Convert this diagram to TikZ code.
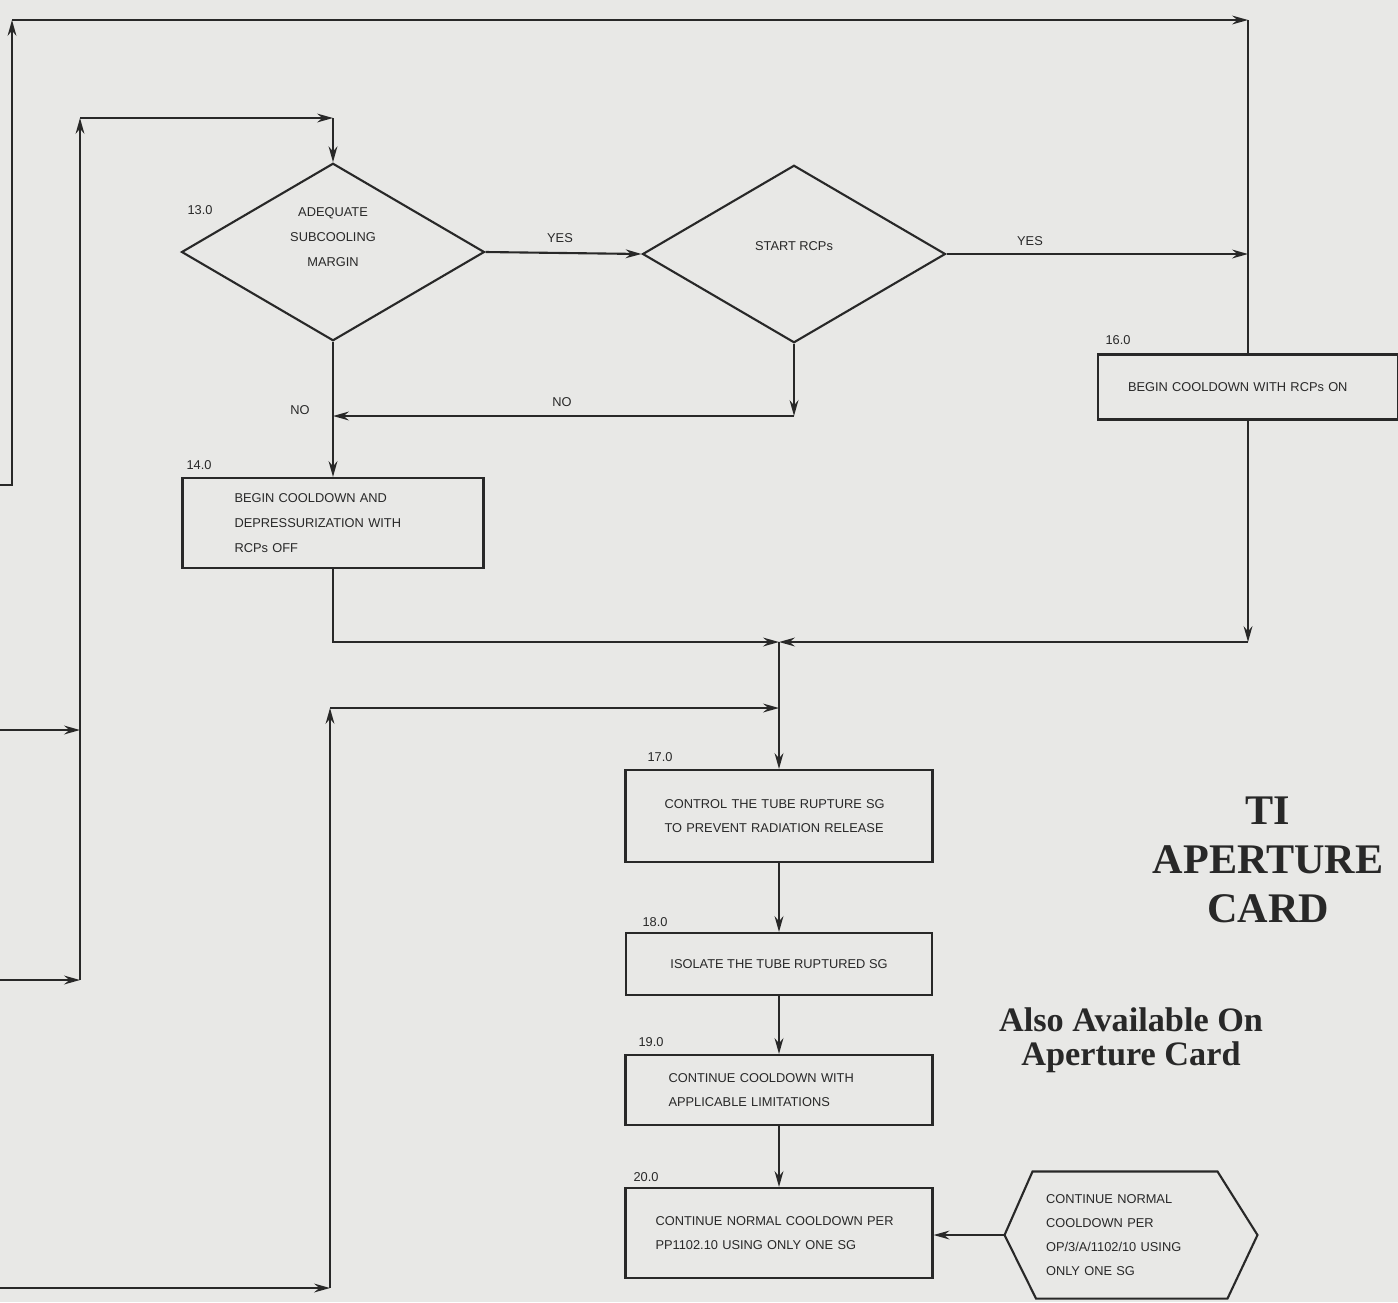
\documentclass[tikz,border=0pt]{standalone}
\usepackage{fontspec}
\newfontfamily\cardfont{Liberation Sans}
\newfontfamily\titlefont{Liberation Serif}
\usepackage{tikz}
\usetikzlibrary{arrows.meta, shapes.geometric}
\definecolor{paper}{RGB}{232,232,230}
\definecolor{ink}{RGB}{40,40,40}

\begin{document}
\begin{tikzpicture}[x=0.02cm, y=-0.02cm, >={Stealth[length=9pt,width=5pt]}, line width=1.2pt, color=ink,
	every node/.style={font=\cardfont\fontsize{7.3}{14}\selectfont},
	flow/.style={->},
	decision/.style={diamond, draw, minimum width=6.06cm, minimum height=3.55cm, inner sep=0pt},
	procbox/.style={rectangle, draw, align=left, inner ysep=0pt},
	tag/.style={inner sep=0pt},
	branch/.style={inner sep=0pt},
	stamp/.style={align=center, inner sep=0pt}]
	\useasboundingbox[fill=paper] (0,0) rectangle (1398,1302);

	\node[decision, label={[align=center, yshift=0.3cm]center:ADEQUATE\\SUBCOOLING\\MARGIN}] (d13) at (333,252) {};
	\node[decision, label={[yshift=0.16cm]center:START RCPs}] (drcp) at (794,254) {};
	\node[procbox, minimum height=1.8cm, text width=3.94cm, inner xsep=1.04cm] (b14) at (333,523) {BEGIN COOLDOWN AND\\DEPRESSURIZATION WITH\\RCPs OFF};
	\node[procbox, minimum height=1.3cm, text width=4.8cm, inner xsep=0.6cm] (b16) at (1248,387) {BEGIN COOLDOWN WITH RCPs ON};
	\node[procbox, minimum height=1.84cm, text width=4.58cm, inner xsep=0.78cm] (b17) at (779,816) {CONTROL THE TUBE RUPTURE SG\\TO PREVENT RADIATION RELEASE};
	\node[procbox, minimum height=1.24cm, minimum width=6.12cm, align=center] (b18) at (779,964) {ISOLATE THE TUBE RUPTURED SG};
	\node[procbox, minimum height=1.4cm, text width=4.42cm, inner xsep=0.86cm] (b19) at (779,1090) {CONTINUE COOLDOWN WITH\\APPLICABLE LIMITATIONS};
	\node[procbox, minimum height=1.8cm, text width=4.94cm, inner xsep=0.6cm] (b20) at (779,1233) {CONTINUE NORMAL COOLDOWN PER\\PP1102.10 USING ONLY ONE SG};
	\node[align=left, text width=3.4cm, minimum height=2.5cm, inner sep=0pt, font=\cardfont\fontsize{7.3}{13.5}\selectfont] (hex) at (1131,1235) {CONTINUE NORMAL\\COOLDOWN PER\\OP/3/A/1102/10 USING\\ONLY ONE SG};
	\coordinate (hexw) at ([xshift=-2.53cm]hex.center);
	\draw (hexw) -- ([xshift=-1.97cm]hex.north) -- ([xshift=1.73cm]hex.north) -- ([xshift=2.53cm]hex.center) -- ([xshift=1.93cm]hex.south) -- ([xshift=-1.9cm]hex.south) -- cycle;

	\node[tag] (t13) at (200,210) {13.0};
	\node[tag] (t14) at (199,465) {14.0};
	\node[tag] (t16) at (1118,340) {16.0};
	\node[tag] (t17) at (660,757) {17.0};
	\node[tag] (t18) at (655,922) {18.0};
	\node[tag] (t19) at (651,1042) {19.0};
	\node[tag] (t20) at (646,1177) {20.0};

	\node[branch] (yes1) at (560,238) {YES};
	\node[branch] (yes2) at (1030,241) {YES};
	\node[branch] (no1) at (562,402) {NO};
	\node[branch] (no2) at (300,410) {NO};

	\node[stamp, font=\titlefont\bfseries\fontsize{24}{28}\selectfont] (card) at (1268,860) {TI\\APERTURE\\CARD};
	\node[stamp, font=\titlefont\bfseries\fontsize{19.5}{19.5}\selectfont] (avail) at (1131,1040) {Also Available On\\Aperture Card};

	\coordinate (in1) at (0,485);
	\coordinate (in2) at (0,980);
	\coordinate (in3) at (0,730);
	\coordinate (in4) at (0,1288);
	\coordinate (topl) at (12,20);
	\coordinate (topr) at (b16.north |- topl);
	\coordinate (loopa) at (80,980);
	\coordinate (loopb) at (80,118);
	\coordinate (loopc) at (d13.north |- loopb);
	\coordinate (loopd) at (330,1288);
	\coordinate (loope) at (330,708);
	\coordinate (yesj) at (b16.north |- drcp.east);
	\coordinate (noc) at (drcp.south |- 0,416);
	\coordinate (noj) at (d13.south |- noc);
	\coordinate (c16) at (b16.south |- 0,642);
	\coordinate (mj) at (b17.north |- c16);
	\coordinate (bj) at (b17.north |- loope);

	\draw[flow] (in1) -| (topl);
	\draw[flow] (topl) -- (topr);
	\draw (topr) -- (b16.north);
	\draw[flow] (in2) -- (loopa);
	\draw[flow] (in3) -- (in3 -| loopa);
	\draw[flow] (loopa) -- (loopb);
	\draw[flow] (loopb) -- (loopc);
	\draw[flow] (loopc) -- (d13.north);
	\draw[flow] (d13.east) -- (drcp.west);
	\draw[flow] (drcp.east) -- (yesj);
	\draw[flow] (drcp.south) -- (noc);
	\draw[flow] (noc) -- (noj);
	\draw[flow] (d13.south) -- (b14.north);
	\draw[flow] (b14.south) |- (mj);
	\draw[flow] (b16.south) -- (c16);
	\draw[flow] (c16) -- (mj);
	\draw[flow] (in4) -- (loopd);
	\draw[flow] (loopd) -- (loope);
	\draw[flow] (loope) -- (bj);
	\draw[flow] (mj) -- (b17.north);
	\draw[flow] (b17.south) -- (b18.north);
	\draw[flow] (b18.south) -- (b19.north);
	\draw[flow] (b19.south) -- (b20.north);
	\draw[flow] (hexw) -- (b20.east |- hexw);
\end{tikzpicture}
\end{document}
